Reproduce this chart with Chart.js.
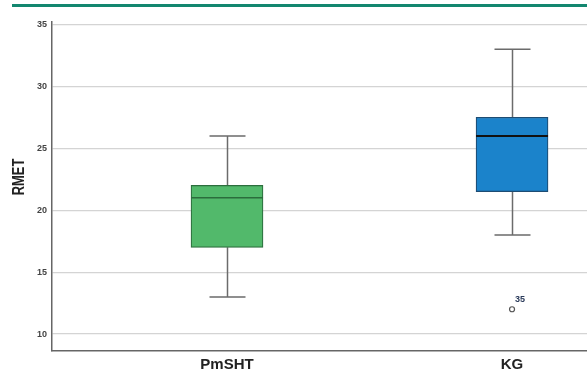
<!DOCTYPE html>
<html>
<head>
<meta charset="utf-8">
<script src="https://cdn.jsdelivr.net/npm/chart.js@4/dist/chart.umd.min.js"></script>
<style>
  body { margin: 0; background: #fff; }
  #wrap { position: relative; width: 587px; height: 371px; }
  #topRule { position: absolute; left: 12px; top: 4px; width: 575px; height: 3px; background: #13876f; }
</style>
</head>
<body>
<div id="wrap">
  <div id="topRule"></div>
  <canvas id="boxChart" width="587" height="371"></canvas>
</div>
<script>
// groups and their five-number summaries
const categories = ['PmSHT', 'KG'];
const xPos = [1, 2];
const whiskerLow = [13, 18];
const q1 = [17, 21.5];
const median = [21, 26];
const q3 = [22, 27.5];
const whiskerHigh = [26, 33];

// outliers
const outlierX = [2];
const outlierValue = [12];
const outlierCase = ['35'];

const yTicks = [10, 15, 20, 25, 30, 35];
const yTitle = 'RMET';

const boxFill = ['#52b96b', '#1b83cb'];
const boxEdge = ['#2c6e3d', '#1d4c73'];
const medianColor = ['#2b6d3c', '#111111'];

const boxPlotPlugin = {
    id: 'boxPlot',
    beforeDatasetsDraw(chart) {
        const ctx = chart.ctx;
        const xs = chart.scales.x, ys = chart.scales.y;
        ctx.save();
        ctx.strokeStyle = '#6b6b6b';
        ctx.lineWidth = 1.5;
        categories.forEach((c, i) => {
            const px = Math.round(xs.getPixelForValue(xPos[i])) + 0.5;
            const lo = ys.getPixelForValue(whiskerLow[i]);
            const hi = ys.getPixelForValue(whiskerHigh[i]);
            ctx.beginPath();
            ctx.moveTo(px, lo); ctx.lineTo(px, ys.getPixelForValue(q1[i]));
            ctx.moveTo(px, ys.getPixelForValue(q3[i])); ctx.lineTo(px, hi);
            ctx.moveTo(px - 18, lo); ctx.lineTo(px + 18, lo);
            ctx.moveTo(px - 18, hi); ctx.lineTo(px + 18, hi);
            ctx.stroke();
        });
        ctx.restore();
    },
    afterDatasetsDraw(chart) {
        const ctx = chart.ctx;
        const xs = chart.scales.x, ys = chart.scales.y;
        ctx.save();
        categories.forEach((c, i) => {
            const px = xs.getPixelForValue(xPos[i]);
            const py = ys.getPixelForValue(median[i]);
            ctx.strokeStyle = medianColor[i];
            ctx.lineWidth = i === 1 ? 2 : 1.5;
            ctx.beginPath();
            ctx.moveTo(px - 36, py); ctx.lineTo(px + 36, py);
            ctx.stroke();
        });
        ctx.fillStyle = '#2a3a5a';
        ctx.font = 'bold 9px "Liberation Sans", Arial, sans-serif';
        ctx.textBaseline = 'middle';
        outlierValue.forEach((v, i) => {
            ctx.fillText(outlierCase[i], xs.getPixelForValue(outlierX[i]) + 3, ys.getPixelForValue(v) - 10);
        });
        ctx.restore();
    },
    afterDraw(chart) {
        // condensed vertical axis title
        const ctx = chart.ctx;
        ctx.save();
        ctx.translate(19, 177);
        ctx.rotate(-Math.PI / 2);
        ctx.scale(0.76, 1);
        ctx.fillStyle = '#222';
        ctx.font = 'bold 17px "Liberation Sans", Arial, sans-serif';
        ctx.textAlign = 'center';
        ctx.textBaseline = 'middle';
        ctx.fillText(yTitle, 0, 0);
        ctx.restore();
    }
};

new Chart(document.getElementById('boxChart').getContext('2d'), {
    type: 'bar',
    data: {
        datasets: [
            {
                label: 'IQR',
                data: categories.map((c, i) => ({ x: xPos[i], y: [q1[i], q3[i]] })),
                backgroundColor: boxFill,
                borderColor: boxEdge,
                borderWidth: 1.2,
                borderSkipped: false,
                barThickness: 72
            },
            {
                type: 'scatter',
                label: 'Outliers',
                data: outlierValue.map((v, i) => ({ x: outlierX[i], y: v })),
                pointRadius: 2.5,
                pointBackgroundColor: '#fff',
                pointBorderColor: '#555',
                pointBorderWidth: 1.2
            }
        ]
    },
    options: {
        responsive: false,
        animation: false,
        layout: { autoPadding: false, padding: { top: 22, right: 0, left: 0, bottom: 0 } },
        plugins: { legend: { display: false }, tooltip: { enabled: false } },
        scales: {
            x: {
                type: 'linear',
                min: 0.386,
                max: 2.263,
                offset: false,
                grid: { display: false, drawTicks: false },
                border: { display: true, color: '#666', width: 1.5 },
                afterBuildTicks: (scale) => { scale.ticks = xPos.map(v => ({ value: v })); },
                afterFit: (scale) => { scale.height = 20; },
                ticks: {
                    autoSkip: false,
                    maxRotation: 0,
                    padding: 5,
                    color: '#222',
                    font: { family: '"Liberation Sans", Arial, sans-serif', size: 15, weight: 'bold' },
                    callback: (v) => categories[xPos.indexOf(v)]
                }
            },
            y: {
                min: 8.63,
                max: 35.2,
                grid: { color: '#d4d4d4', lineWidth: 1.2, drawTicks: false },
                border: { display: true, color: '#666', width: 1.5 },
                afterBuildTicks: (scale) => { scale.ticks = yTicks.map(v => ({ value: v })); },
                afterFit: (scale) => { scale.width = 52; },
                ticks: {
                    padding: 5,
                    color: '#444',
                    font: { family: '"Liberation Sans", Arial, sans-serif', size: 9, weight: 'bold' }
                }
            }
        }
    },
    plugins: [boxPlotPlugin]
});
</script>
</body>
</html>
